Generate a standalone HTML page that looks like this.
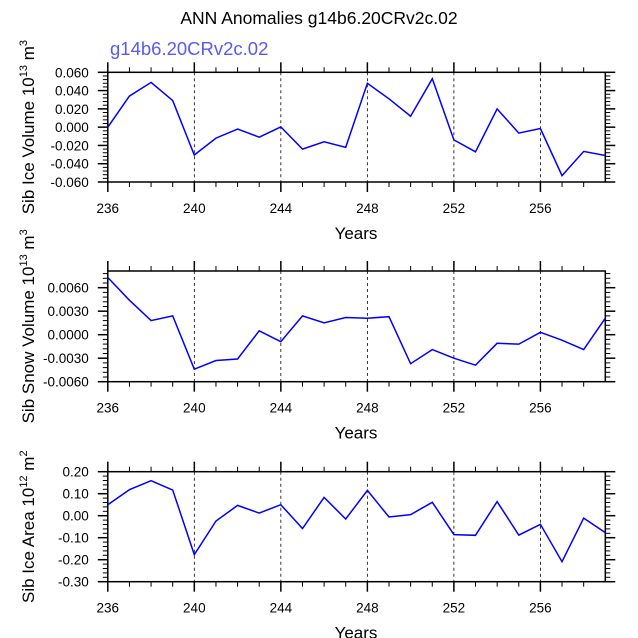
<!DOCTYPE html>
<html><head><meta charset="utf-8">
<style>
html,body{margin:0;padding:0;background:#fff;}
svg{display:block;font-family:"Liberation Sans",Helvetica,Arial,sans-serif;}
</style></head>
<body>
<svg id="chart" width="638" height="638" viewBox="0 0 638 638" xmlns="http://www.w3.org/2000/svg">
<text x="319" y="24" text-anchor="middle" font-size="17.5" fill="#000">ANN Anomalies g14b6.20CRv2c.02</text>
<text x="110" y="55" font-size="18.5" fill="#5a5af0">g14b6.20CRv2c.02</text>
</svg>
<script>
const years = [236,237,238,239,240,241,242,243,244,245,246,247,248,249,250,251,252,253,254,255,256,257,258,259];
const iceVolume = [0.000,0.034,0.049,0.029,-0.0305,-0.012,-0.002,-0.011,0.0003,-0.024,-0.016,-0.022,0.048,0.031,0.012,0.053,-0.014,-0.027,0.020,-0.0065,-0.0015,-0.053,-0.0265,-0.031];
const snowVolume = [0.0073,0.0044,0.0018,0.0024,-0.0044,-0.0033,-0.0031,0.0005,-0.0009,0.0024,0.0015,0.0022,0.0021,0.0023,-0.0037,-0.0019,-0.0030,-0.0039,-0.0011,-0.0012,0.0003,-0.0007,-0.0019,0.0021];
const iceArea = [0.05,0.118,0.159,0.117,-0.177,-0.024,0.047,0.012,0.05,-0.058,0.083,-0.015,0.115,-0.006,0.005,0.061,-0.086,-0.089,0.064,-0.088,-0.039,-0.209,-0.011,-0.077];
const xTicks = [236,240,244,248,252,256];
const iceVolumeTicks = [0.060,0.040,0.020,0.000,-0.020,-0.040,-0.060];
const iceVolumeTickLabels = ["0.060","0.040","0.020","0.000","-0.020","-0.040","-0.060"];
const snowVolumeTicks = [0.006,0.003,0.0,-0.003,-0.006];
const snowVolumeTickLabels = ["0.0060","0.0030","0.0000","-0.0030","-0.0060"];
const iceAreaTicks = [0.2,0.1,0.0,-0.1,-0.2,-0.3];
const iceAreaTickLabels = ["0.20","0.10","0.00","-0.10","-0.20","-0.30"];

const NS="http://www.w3.org/2000/svg";
const svg=document.getElementById('chart');
function mk(tag,attrs,parent){const e=document.createElementNS(NS,tag);for(const k in attrs)e.setAttribute(k,attrs[k]);(parent||svg).appendChild(e);return e;}

const X0=107.8, X1=605.3, XMIN=236, XMAX=259;
function xs(v){return X0+(v-XMIN)/(XMAX-XMIN)*(X1-X0);}

function panel(cfg){
  const g=mk('g',{});
  
  
  const ys=v=>cfg.top+(cfg.ymax-v)/(cfg.ymax-cfg.ymin)*(cfg.bot-cfg.top);
  xTicks.slice(1).forEach(t=>{
    const l=mk('line',{x1:xs(t),x2:xs(t),y1:cfg.top,y2:cfg.bot,stroke:'#000','stroke-width':0.8,'stroke-dasharray':'3,3'},g);
    
    
  });
  for(let y=XMIN+1;y<XMAX;y++){
    if(xTicks.includes(y))continue;
    mk('line',{x1:xs(y),x2:xs(y),y1:cfg.top,y2:cfg.top-5,stroke:'#000','stroke-width':1},g);
    mk('line',{x1:xs(y),x2:xs(y),y1:cfg.bot,y2:cfg.bot+5,stroke:'#000','stroke-width':1},g);
  }
  xTicks.forEach(t=>{
    mk('line',{x1:xs(t),x2:xs(t),y1:cfg.top-10,y2:cfg.top,stroke:'#000','stroke-width':1.5},g);
    mk('line',{x1:xs(t),x2:xs(t),y1:cfg.bot,y2:cfg.bot+10,stroke:'#000','stroke-width':1.5},g);
    const tx=mk('text',{x:xs(t),y:cfg.bot+31,'text-anchor':'middle','font-size':13.5},g);
    
    
    tx.textContent=t;
  });
  const step=cfg.minor;
  for(let v=cfg.ticks[cfg.ticks.length-1];v<=cfg.ymax+1e-9;v+=step){
    const onMajor=cfg.ticks.some(t=>Math.abs(t-v)<step*0.1);
    if(onMajor||v<cfg.ymin-1e-9)continue;
    mk('line',{x1:X0,x2:X0-5,y1:ys(v),y2:ys(v),stroke:'#000','stroke-width':1},g);
    mk('line',{x1:X1,x2:X1+5,y1:ys(v),y2:ys(v),stroke:'#000','stroke-width':1},g);
  }
  cfg.ticks.forEach((t,i)=>{
    mk('line',{x1:X0-10,x2:X0,y1:ys(t),y2:ys(t),stroke:'#000','stroke-width':1.5},g);
    mk('line',{x1:X1,x2:X1+10,y1:ys(t),y2:ys(t),stroke:'#000','stroke-width':1.5},g);
    const tx=mk('text',{x:X0-19,y:ys(t)+5,'text-anchor':'end','font-size':13.5},g);
    
    
    tx.textContent=cfg.labels[i];
  });
  const fr=mk('rect',{x:X0,y:cfg.top,width:X1-X0,height:cfg.bot-cfg.top,fill:'none',stroke:'#000','stroke-width':1.5},g);
  
  
  const pts=years.map((y,i)=>xs(y).toFixed(1)+','+ys(cfg.data[i]).toFixed(1)).join(' ');
  const pl=mk('polyline',{points:pts,fill:'none',stroke:'#0000ff','stroke-width':1.5},g);
  
  
  const xt=mk('text',{x:356,y:cfg.bot+57,'text-anchor':'middle','font-size':17},g);
  
  
  xt.textContent='Years';
  const cy=(cfg.top+cfg.bot)/2;
  const yt=mk('text',{x:0,y:0,'text-anchor':'middle','font-size':17,transform:`translate(34,${cy}) rotate(-90)`},g);
  
  
  yt.innerHTML=cfg.ytitle;
}

panel({name:'ice-volume-panel',top:72.3,bot:182,ymin:-0.06,ymax:0.06,ticks:iceVolumeTicks,labels:iceVolumeTickLabels,minor:0.004,data:iceVolume,
  ytitle:'Sib Ice Volume 10<tspan dy="-7" font-size="11">13</tspan><tspan dy="7"> m</tspan><tspan dy="-7" font-size="11">3</tspan>'});
panel({name:'snow-volume-panel',top:271,bot:381.7,ymin:-0.006,ymax:0.00813,ticks:snowVolumeTicks,labels:snowVolumeTickLabels,minor:0.0006,data:snowVolume,
  ytitle:'Sib Snow Volume 10<tspan dy="-7" font-size="11">13</tspan><tspan dy="7"> m</tspan><tspan dy="-7" font-size="11">3</tspan>'});
panel({name:'ice-area-panel',top:471.7,bot:581.7,ymin:-0.3,ymax:0.2,ticks:iceAreaTicks,labels:iceAreaTickLabels,minor:0.02,data:iceArea,
  ytitle:'Sib Ice Area 10<tspan dy="-7" font-size="11">12</tspan><tspan dy="7"> m</tspan><tspan dy="-7" font-size="11">2</tspan>'});
</script>
</body></html>
